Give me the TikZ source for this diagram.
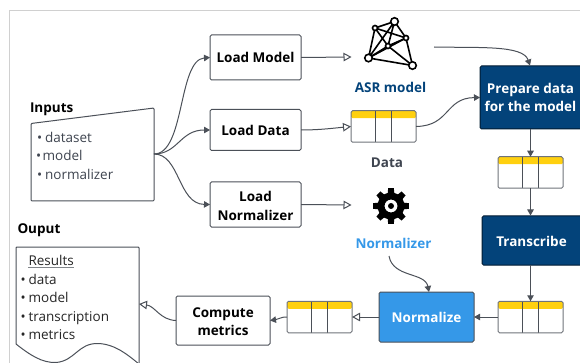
\documentclass[tikz,border=0pt]{standalone}
\usepackage{fontspec}
\setmainfont{Open Sans}
\usetikzlibrary{arrows.meta}
\definecolor{lineC}{HTML}{4B5058}
\definecolor{navyC}{HTML}{03437A}
\definecolor{blueC}{HTML}{3598E8}
\definecolor{yelC}{HTML}{FFD00F}
\definecolor{txtC}{HTML}{3F4550}
\definecolor{frameC}{HTML}{D0D0D0}
\tikzset{
  x=1pt,y=-1pt,
  every node/.style={inner sep=0pt,outer sep=0pt,align=center},
  stepbox/.style={draw=lineC,line width=1pt,rounded corners=1.5pt,fill=white,font=\fontsize{13.5}{18.5}\selectfont\bfseries,text=black,minimum width=91pt},
  darkbox/.style={draw=black!60!navyC,line width=1pt,rounded corners=1.5pt,fill=navyC},
  normbox/.style={draw=lineC,line width=1pt,rounded corners=1.5pt,fill=blueC,font=\fontsize{13.5}{18}\selectfont\bfseries,text=white,minimum width=95pt,minimum height=50pt},
  darktxt/.style={font=\fontsize{13.5}{18.5}\selectfont\bfseries,text=white},
  tablebox/.style={draw=lineC!80,line width=1pt,rounded corners=1.5pt,minimum width=65pt,minimum height=31.5pt,
    path picture={
      \fill[yelC] (path picture bounding box.north west) rectangle ([yshift=-7.5pt]path picture bounding box.north east);
      \draw[lineC,line width=0.9pt] ([xshift=24.5pt]path picture bounding box.north west) -- ([xshift=24.5pt]path picture bounding box.south west);
      \draw[lineC,line width=0.9pt] ([xshift=40pt]path picture bounding box.north west) -- ([xshift=40pt]path picture bounding box.south west);
    }},
  flow/.style={draw=lineC,line width=1pt,-{Triangle[length=6pt,width=6.5pt]}},
  openflow/.style={draw=lineC,line width=1pt,-{Triangle[open,fill=white,length=8pt,width=8.5pt]}},
  shapeline/.style={draw=lineC,line width=1pt,line join=round,fill=white},
  head/.style={font=\fontsize{13.5}{16}\selectfont\bfseries,text=black,anchor=base west},
  labeltxt/.style={font=\fontsize{13.5}{16}\selectfont\bfseries,anchor=base},
  listtxt/.style={font=\fontsize{13.5}{18.5}\selectfont,text=txtC,align=left,anchor=base west},
  listblack/.style={listtxt,text=black!85},
  net/.style={line width=1.6pt,draw=black},
  netdot/.style={circle,draw=black,line width=1.6pt,fill=white},
}
\begin{document}
\begin{tikzpicture}
\useasboundingbox (0,0) rectangle (580,363);
% frame
\draw[frameC,line width=0.8pt] (9.5,363) -- (9.5,10.5) -- (580,10.5);

% inputs
\node[head] (inputsT) at (30,112.5) {Inputs};
\draw[shapeline,rounded corners=1pt] (31,123.5) -- (154,108) -- (154,201) -- (31,201) -- cycle;
\coordinate (inR) at (154,154);
\node[listtxt] (i1) at (37,142.5) {•\hspace{3pt}dataset};
\node[listtxt] (i2) at (36,160.5) {•\hspace{1.5pt}model};
\node[listtxt] (i3) at (37,179.5) {•\hspace{3pt}normalizer};

% loaders
\node[stepbox,minimum height=45pt] (lm) at (255.5,57.5) {\raisebox{-0.6pt}{Load Model}};
\node[stepbox,minimum height=41pt] (ld) at (255.5,130) {\raisebox{-0.6pt}{Load Data}};
\node[stepbox,minimum height=45pt] (ln) at (255.5,204.5) {\rule{0pt}{13.5pt}Load\\Normalizer};

% network icon
\coordinate (n1) at (394.5,21.5);
\coordinate (n2) at (375,28);
\coordinate (n3) at (406,38);
\coordinate (n4) at (388,46);
\coordinate (n5) at (368.5,58);
\coordinate (n6) at (412.5,65.5);
\draw[net] (n1)--(n2) (n1)--(n3) (n1)--(n4) (n1)--(n5) (n2)--(n3) (n2)--(n4) (n2)--(n5) (n3)--(n4) (n3)--(n5) (n3)--(n6) (n4)--(n5) (n4)--(n6) (n5)--(n6);
\foreach \p/\s in {n1/7.5,n2/5,n3/5,n4/5,n5/7.5,n6/7.5}
  \node[netdot,minimum size=\s pt] at (\p) {};
\coordinate (asrIn) at (351.5,57);
\coordinate (asrOut) at (434,47);
\node[labeltxt,text=navyC] (asrL) at (390.5,92.5) {ASR model};

% data table
\node[tablebox] (t1) at (383.5,126.5) {};
\node[labeltxt,text=txtC] (dataL) at (387,167.5) {Data};

% gear
\begin{scope}[shift={(391,206)}]
\fill[black,even odd rule] (-14:13.5)
  \foreach \a in {0,45,...,315}{
    -- (\a-14:13.5) -- (\a-9:18) -- (\a+9:18) -- (\a+14:13.5)
  }
  -- cycle
  (0,0) circle (6.5);
\fill[black] (0,0) circle (3);
\end{scope}
\coordinate (gearIn) at (351.5,205);
\node[labeltxt,text=blueC] (normL) at (393.5,248.5) {Normalizer};
\coordinate (normOut) at (389,256);

% right column
\node[darkbox,minimum width=110pt,minimum height=63pt] (prep) at (535,97.5) {};
\node[darktxt] (prepT) at (530.5,97.5) {Prepare data\\for the model};
\node[tablebox] (t2) at (530.5,172.5) {};
\node[darkbox,minimum width=110pt,minimum height=49pt] (tr) at (537,240.5) {};
\node[darktxt] (trT) at (531.5,241.5) {Transcribe};
\node[tablebox] (t3) at (530.5,317) {};
\node[normbox] (nz) at (426.5,317) {Normalize};
\node[tablebox] (t4) at (319.5,317) {};
\node[stepbox,minimum width=94pt,minimum height=49pt] (cm) at (223,320.5) {\rule{0pt}{12.5pt}Compute\\metrics};

% output
\node[head] (outT) at (17.5,233.5) {Ouput};
\draw[shapeline,rounded corners=0.8pt] (16,344) -- (16,247) -- (139,247) -- (139,364);
\draw[shapeline,fill=none] (16,344) .. controls (30,355) and (42,363) .. (56,362.5) .. controls (75,361) and (78,343) .. (98,343.5) .. controls (115,344) and (128,355) .. (139,364);
\coordinate (outR) at (139,304);
\node[listblack] (r0) at (28.5,265) {Results};
\draw[lineC!70,line width=0.8pt] (28,267.5) -- (74,267.5);
\node[listblack] (r1) at (20.5,284) {•\hspace{3pt}data};
\node[listblack] (r2) at (20.5,302.5) {•\hspace{3pt}model};
\node[listblack] (r3) at (20.5,321) {•\hspace{3pt}transcription};
\node[listblack] (r4) at (20.5,339) {•\hspace{3pt}metrics};

% connectors
\draw[flow] (inR) .. controls (185,154) and (178,60) .. (lm.west);
\draw[flow] (inR) .. controls (178,154) and (180,130) .. (ld.west);
\draw[flow] (inR) .. controls (180,154) and (178,204) .. (ln.west);
\draw[openflow] (lm.east) -- (asrIn);
\draw[openflow] (ld.east) .. controls (320,130) and (335,128) .. (t1.west);
\draw[openflow] (ln.east) -- (gearIn);
\draw[flow] (asrOut) .. controls (480,48) and (523,45) .. (530,65.5);
\draw[flow] (t1.east) .. controls (450,126) and (445,98) .. (prep.west);
\draw[flow] (530.5,129) -- (t2.north);
\draw[flow] (t2.south) -- (530.5,215.5);
\draw[flow] (530.5,265) -- (t3.north);
\draw[flow] (t3.west) -- (nz.east);
\draw[openflow] (nz.west) -- (t4.east);
\draw[flow] (t4.west) .. controls (280,317) and (280,319) .. (cm.east);
\draw[openflow] (cm.west) .. controls (160,320) and (155,306) .. (outR);
\draw[flow] (normOut) .. controls (393,278) and (425,272) .. (429,292);
\end{tikzpicture}
\end{document}
